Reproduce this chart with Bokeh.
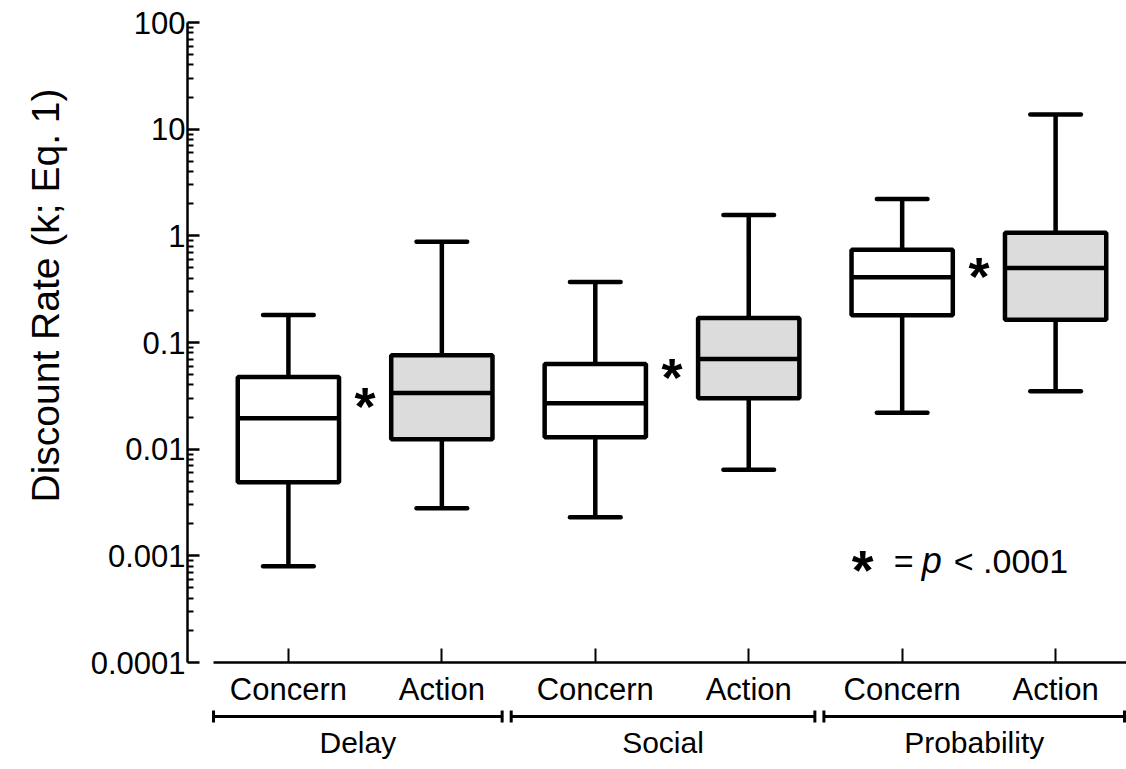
import numpy as np
from bokeh.plotting import figure
from bokeh.models import Range1d, FixedTicker, PrintfTickFormatter, Title
from bokeh.layouts import column
from bokeh.embed import file_html
from bokeh.resources import INLINE
from bokeh.core.properties import value

# ---------------- data ----------------
groups = ["Delay", "Social", "Probability"]
conditions = ["Concern", "Action"]
# box order: Delay-Concern, Delay-Action, Social-Concern, Social-Action, Probability-Concern, Probability-Action
whisker_low = [0.0008, 0.0028, 0.0023, 0.0064, 0.022, 0.035]
q1 = [0.0049, 0.0124, 0.0129, 0.030, 0.180, 0.163]
median = [0.0195, 0.0336, 0.027, 0.070, 0.41, 0.50]
q3 = [0.0474, 0.076, 0.063, 0.170, 0.74, 1.07]
whisker_high = [0.181, 0.88, 0.37, 1.57, 2.22, 13.7]
sig_y = [0.030, 0.056, 0.50]          # asterisk heights (Concern vs Action)
y_ticks = [0.0001, 0.001, 0.01, 0.1, 1, 10, 100]
y_tick_labels = ["0.0001", "0.001", "0.01", "0.1", "1", "10", "100"]
y_label = "Discount  Rate (k; Eq. 1)"
legend_parts = ["*", "=", "p", "< .0001"]

# ---------------- styling ----------------
FONT = "'Liberation Sans', Arial, sans-serif"
fills = ["white", "#dcdcdc"]

n_cond = len(conditions)
labels = [c for g in groups for c in conditions]
xs = np.arange(1, len(labels) + 1, dtype=float)
box_colors = [fills[i % n_cond] for i in range(len(labels))]
box_w = 0.66
cap_w = 0.33
LW = 4.5

X0, X1 = 0.3424, 6.462

p = figure(width=1126, height=709,
           x_range=Range1d(X0, X1), y_range=Range1d(1e-4, 100),
           y_axis_type="log", toolbar_location=None, output_backend="svg",
           min_border_left=186, min_border_right=0, min_border_top=22, min_border_bottom=47)
p.grid.visible = False
p.outline_line_color = None
p.background_fill_color = "white"
p.border_fill_color = "white"

# whiskers
p.segment(x0=xs, y0=q3, x1=xs, y1=whisker_high, line_color="black", line_width=LW)
p.segment(x0=xs, y0=q1, x1=xs, y1=whisker_low, line_color="black", line_width=LW)
# caps
p.segment(x0=xs - cap_w / 2, y0=whisker_high, x1=xs + cap_w / 2, y1=whisker_high,
          line_color="black", line_width=LW, line_cap="round")
p.segment(x0=xs - cap_w / 2, y0=whisker_low, x1=xs + cap_w / 2, y1=whisker_low,
          line_color="black", line_width=LW, line_cap="round")
# boxes
p.vbar(x=xs, width=box_w, bottom=q1, top=q3, fill_color=box_colors,
       line_color="black", line_width=LW)
# medians
p.segment(x0=xs - box_w / 2, y0=median, x1=xs + box_w / 2, y1=median,
          line_color="black", line_width=LW)

# significance asterisks between paired boxes
sig_x = [(xs[i * n_cond] + xs[i * n_cond + 1]) / 2 for i in range(len(groups))]
p.text(x=sig_x, y=sig_y, text=["*"] * len(groups), text_font=value(FONT),
       text_font_style="bold", text_font_size="54px", text_align="center",
       text_baseline="middle", y_offset=8, text_color="black")

# legend  "* = p < .0001"
legend_y = 0.0009
p.text(x=[4.743], y=[legend_y], text=[legend_parts[0]], text_font=value(FONT),
       text_font_style="bold", text_font_size="56px", text_align="center",
       text_baseline="middle", y_offset=9, text_color="black")
p.text(x=[4.945], y=[legend_y], text=[legend_parts[1]], text_font=value(FONT),
       text_font_size="34px", text_align="left", text_baseline="middle", text_color="black")
p.text(x=[5.128], y=[legend_y], text=[legend_parts[2]], text_font=value(FONT),
       text_font_style="italic", text_font_size="36px", text_align="left",
       text_baseline="middle", text_color="black")
p.text(x=[5.336], y=[legend_y], text=[legend_parts[3]], text_font=value(FONT),
       text_font_size="34px", text_align="left", text_baseline="middle", text_color="black")

# y axis
ya = p.yaxis[0]
ya.ticker = FixedTicker(ticks=y_ticks,
                        minor_ticks=[m * t for t in y_ticks[:-1] for m in range(2, 10)])
ya.formatter = PrintfTickFormatter(format="%g")
ya.major_label_overrides = {t: l for t, l in zip(y_ticks, y_tick_labels)}
ya.axis_line_width = 2.5
ya.axis_line_color = "black"
ya.major_tick_in = 12
ya.major_tick_out = 0
ya.minor_tick_in = 6
ya.minor_tick_out = 0
ya.major_tick_line_width = 2.5
ya.minor_tick_line_width = 2
ya.major_label_text_font = FONT
ya.major_label_text_font_size = "31px"
ya.major_label_text_color = "black"
ya.major_label_standoff = 2

# x axis
xa = p.xaxis[0]
xa.ticker = FixedTicker(ticks=list(xs))
xa.major_label_overrides = {int(x): l for x, l in zip(xs, labels)}
xa.bounds = (0.512, X1)
xa.axis_line_width = 2.5
xa.axis_line_color = "black"
xa.major_tick_in = 14
xa.major_tick_out = 0
xa.major_tick_line_width = 2
xa.minor_tick_line_color = None
xa.major_label_text_font = FONT
xa.major_label_text_font_size = "31px"
xa.major_label_text_color = "black"
xa.major_label_standoff = 9

# y axis title
p.add_layout(Title(text=y_label, align="left", offset=160, text_font=FONT,
                   text_font_size="39px", text_font_style="normal",
                   text_color="black", standoff=42), "left")

# ---------------- group brackets ----------------
BH = 60
b = figure(width=1126, height=BH, x_range=p.x_range, y_range=Range1d(BH, 0),
           toolbar_location=None, output_backend="svg",
           min_border_left=186, min_border_right=0, min_border_top=0, min_border_bottom=0,
           x_axis_location=None, y_axis_location=None)
b.grid.visible = False
b.outline_line_color = None
b.background_fill_color = "white"
b.border_fill_color = "white"

group_left = [0.512, 2.452, 4.490]
group_right = [2.393, 4.431, 6.449]
group_center = [(l + r) / 2 for l, r in zip(group_left, group_right)]
b.segment(x0=group_left, y0=[7] * 3, x1=group_right, y1=[7] * 3,
          line_color="black", line_width=3)
ends = group_left + group_right
b.segment(x0=ends, y0=[1] * 6, x1=ends, y1=[13] * 6, line_color="black", line_width=3)
b.text(x=group_center, y=[33] * 3, text=groups, text_font=value(FONT),
       text_font_size="30px", text_align="center", text_baseline="middle",
       text_color="black")

layout = column(p, b, spacing=0)
open("out.html", "w").write(file_html(layout, INLINE))
